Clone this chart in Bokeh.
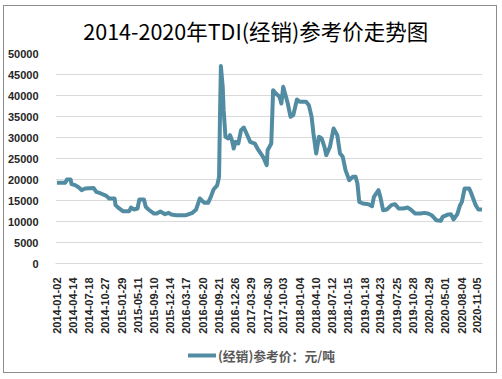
import math
from bokeh.plotting import figure
from bokeh.layouts import column
from bokeh.models import FixedTicker, ColumnDataSource
from bokeh.core.properties import value
from bokeh.embed import file_html
from bokeh.resources import INLINE

# record index (trading-day sequence) and price (元/吨)
record_idx = [0, 9, 11, 15, 16, 20, 24, 27, 31, 40, 43, 48, 54, 57, 63, 64, 68, 72, 79, 81,
              84, 88, 90, 95, 97, 100, 106, 109, 113, 118, 122, 125, 130, 141, 148, 152, 156,
              161, 165, 168, 171, 175, 177, 178, 179, 181, 182, 184, 187, 189, 191, 193, 195,
              198, 201, 204, 207, 211, 216, 220, 225, 229, 230, 234, 236, 239, 243, 245, 247,
              250, 252, 255, 258, 262, 265, 272, 275, 278, 280, 283, 286, 289, 292, 294, 298,
              302, 306, 309, 312, 315, 319, 323, 326, 328, 330, 334, 340, 344, 346, 351, 353,
              356, 360, 365, 369, 373, 378, 383, 387, 391, 397, 401, 405, 409, 414, 419, 421,
              426, 430, 433, 437, 440, 442, 445, 450, 452, 457, 460, 464]
price = [19200, 19200, 20000, 20000, 18900, 18650, 18100, 17460, 17860, 18000, 17060, 16670,
         16100, 15480, 15480, 13900, 13100, 12460, 12460, 13330, 12860, 13100, 15240, 15240,
         13490, 12860, 11900, 11900, 12380, 11750, 12060, 11670, 11500, 11500, 12060, 12860,
         15480, 14440, 14440, 15870, 17620, 18650, 20640, 34900, 47000, 42000, 36500, 30160,
         29760, 30560, 29370, 27380, 28970, 28570, 31750, 32380, 30950, 28970, 28570, 26980,
         25400, 23410, 26980, 28570, 41270, 40480, 39680, 38100, 42060, 39680, 38100, 34920,
         35320, 39050, 38500, 38500, 37700, 34920, 30950, 26190, 30160, 29760, 27780, 25800,
         27780, 32140, 30560, 26190, 25400, 22220, 19840, 20640, 20640, 19050, 14680, 14290,
         14130, 13650, 15870, 17460, 15870, 12700, 12860, 13890, 14130, 13100, 13100, 13330,
         12700, 11900, 11900, 12060, 11900, 11500, 10320, 10160, 11110, 11590, 11750, 10480,
         11750, 13890, 14680, 17860, 17860, 16830, 13890, 12860, 12860]

# labelled dates and the record index at which each falls
tick_dates = ["2014-01-02", "2014-04-14", "2014-07-18", "2014-10-27", "2015-01-29",
              "2015-05-11", "2015-09-10", "2015-12-14", "2016-03-17", "2016-06-20",
              "2016-09-21", "2016-12-26", "2017-03-29", "2017-06-30", "2017-10-03",
              "2018-01-04", "2018-04-10", "2018-07-12", "2018-10-15", "2019-01-18",
              "2019-04-23", "2019-07-25", "2019-10-28", "2020-01-29", "2020-05-01",
              "2020-08-04", "2020-11-05"]
tick_idx = [0, 18, 35, 53, 71, 88, 106, 124, 141, 159, 177, 194, 212, 230, 247, 265, 283,
            300, 318, 336, 353, 371, 389, 406, 424, 442, 459]
y_ticks = [0, 5000, 10000, 15000, 20000, 25000, 30000, 35000, 40000, 45000, 50000]

title_text = "2014-2020年TDI(经销)参考价走势图"
series_name = "(经销)参考价：元/吨"
LINE_COLOR = "#528ca2"
W = 492
BL, BR = 43, 14   # left / right borders shared by all parts


def strip(height):
    # pixel-unit strip whose frame lines up with the main chart's frame
    f = figure(width=W, height=height, output_backend="svg", toolbar_location=None,
               x_range=(BL, W - BR), y_range=(0, height),
               min_border_left=BL, min_border_right=BR, min_border_top=0, min_border_bottom=0,
               x_axis_location=None, y_axis_location=None)
    f.grid.visible = False
    f.outline_line_color = None
    return f


# title strip
tt = strip(40)
tt.text([247], [16], text=[title_text], text_font=value("Noto Sans CJK SC"),
        text_font_size="21.5px", text_color="#000000",
        text_baseline="middle", text_align="center")

# main chart
p = figure(width=W, height=295, output_backend="svg", toolbar_location=None,
           x_range=(-1.5, 464.5), y_range=(0, 50000),
           min_border_left=BL, min_border_right=BR, min_border_top=7, min_border_bottom=78)

src = ColumnDataSource(dict(x=record_idx, y=price))
p.line("x", "y", source=src, line_color=LINE_COLOR, line_width=4, line_join="round")

p.xaxis.ticker = FixedTicker(ticks=tick_idx)
p.xaxis.major_label_overrides = {t: lab for t, lab in zip(tick_idx, tick_dates)}
p.xaxis.major_label_orientation = math.pi / 2
p.xaxis.major_label_text_font = "Liberation Sans"
p.xaxis.major_label_text_font_style = "bold"
p.xaxis.major_label_text_font_size = "11px"
p.xaxis.major_label_text_color = "#262626"
p.xaxis.axis_line_color = "#d9d9d9"
p.xaxis.major_tick_line_color = None
p.xaxis.minor_tick_line_color = None
p.xaxis.major_label_standoff = 8

p.yaxis.ticker = FixedTicker(ticks=y_ticks)
p.yaxis.major_label_text_font = "Liberation Sans"
p.yaxis.major_label_text_font_style = "bold"
p.yaxis.major_label_text_font_size = "11px"
p.yaxis.major_label_text_color = "#262626"
p.yaxis.axis_line_color = None
p.yaxis.major_tick_line_color = None
p.yaxis.minor_tick_line_color = None
p.yaxis.major_label_standoff = 11

p.xgrid.grid_line_color = None
p.ygrid.grid_line_color = "#d9d9d9"
p.outline_line_color = None

# legend strip
lg = strip(31)
lg.line([178, 206.5], [17, 17], line_color=LINE_COLOR, line_width=4)
lg.text([208.5], [17], text=[series_name], text_font=value("Noto Sans CJK SC"),
        text_font_size="12.8px", text_font_style="bold", text_color="#595959",
        text_baseline="middle", text_align="left")

layout = column(tt, p, lg, spacing=0, margin=(5, 0, 0, 3),
                styles={"border": "1px solid #8c8c8c"})

open("out.html", "w").write(file_html(layout, INLINE))
